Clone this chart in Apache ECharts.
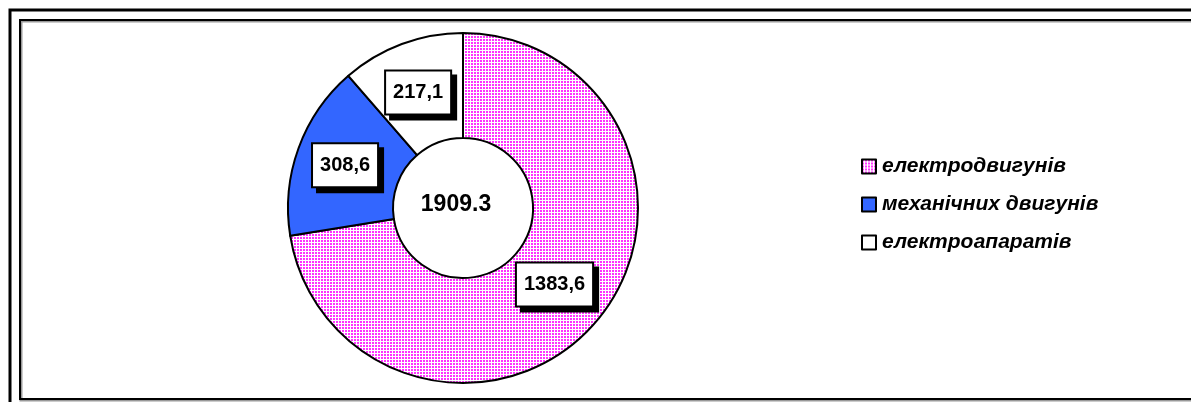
<!DOCTYPE html>
<html>
<head>
<meta charset="utf-8">
<script src="https://cdn.jsdelivr.net/npm/echarts@6/dist/echarts.min.js"></script>
<style>
html,body{margin:0;padding:0;background:#fff;}
#chart{width:1191px;height:402px;}
</style>
</head>
<body>
<div id="chart"></div>
<script>
const categories = ['електродвигунів', 'механічних двигунів', 'електроапаратів'];
const values = [1383.6, 308.6, 217.1];
const valueLabels = ['1383,6', '308,6', '217,1'];
const totalLabel = '1909.3';

function makePattern() {
  const c = document.createElement('canvas');
  c.width = 3; c.height = 3;
  const ctx = c.getContext('2d');
  ctx.fillStyle = '#ffffff';
  ctx.fillRect(0, 0, 3, 3);
  ctx.fillStyle = '#ff33ff';
  ctx.fillRect(0, 0, 2, 2);
  return c;
}
const pinkPattern = { image: makePattern(), repeat: 'repeat' };
const colors = [pinkPattern, '#3366ff', '#ffffff'];
const labelOffsets = [[-4, -5], [0, 0], [-1, 2]];

const chart = echarts.init(document.getElementById('chart'), null, { renderer: 'canvas' });
const font = '"Liberation Sans", Arial, sans-serif';

chart.setOption({
  animation: false,
  backgroundColor: '#ffffff',
  legend: {
    orient: 'vertical',
    left: 856,
    top: 151,
    itemWidth: 14,
    itemHeight: 14,
    itemGap: 17,
    icon: 'rect',
    data: categories,
    itemStyle: { borderColor: '#000', borderWidth: 2 },
    textStyle: { fontFamily: font, fontSize: 21, fontWeight: 'bold', fontStyle: 'italic', color: '#000', padding: [0, 0, 0, 1] }
  },
  graphic: [
    { type: 'rect', shape: { x: 10, y: 10, width: 1400, height: 600 }, style: { fill: 'none', stroke: '#000', lineWidth: 3 }, silent: true },
    { type: 'rect', shape: { x: 21, y: 21, width: 1400, height: 379 }, style: { fill: 'none', stroke: '#999', lineWidth: 3 }, silent: true },
    { type: 'rect', shape: { x: 20, y: 20, width: 1400, height: 379 }, style: { fill: 'none', stroke: '#000', lineWidth: 2 }, silent: true },
    { type: 'text', x: 456, y: 205, z: 10, style: { text: totalLabel, font: 'bold 23px ' + font, fill: '#000', textAlign: 'center', textVerticalAlign: 'middle' } }
  ],
  series: [{
    type: 'pie',
    center: [463, 208],
    radius: [70, 175],
    startAngle: 90,
    clockwise: true,
    avoidLabelOverlap: false,
    itemStyle: { borderColor: '#000', borderWidth: 2 },
    label: {
      show: true,
      position: 'inside',
      formatter: p => valueLabels[p.dataIndex],
      fontFamily: font,
      fontSize: 20,
      fontWeight: 'bold',
      color: '#000',
      backgroundColor: '#fff',
      borderColor: '#000',
      borderWidth: 2,
      padding: [12, 7, 10, 7],
      shadowColor: '#000',
      shadowBlur: 0,
      shadowOffsetX: 5,
      shadowOffsetY: 5
    },
    labelLine: { show: false },
    emphasis: { disabled: true },
    data: categories.map((n, i) => ({ name: n, value: values[i], itemStyle: { color: colors[i] }, label: { offset: labelOffsets[i] } }))
  }]
});
</script>
</body>
</html>
